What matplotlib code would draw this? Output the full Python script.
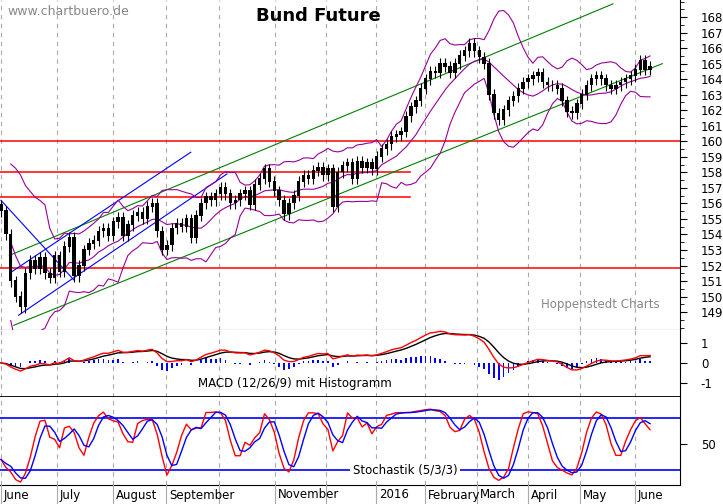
import numpy as np
import pandas as pd
import matplotlib
matplotlib.use("Agg")
import matplotlib.pyplot as plt

closes = [155.5,154.0,151.0,150.0,149.3,151.5,152.3,151.8,152.5,151.5,151.2,152.6,151.6,153.2,153.8,151.3,152.0,153.0,153.4,153.6,
154.2,154.4,153.9,154.8,155.1,153.9,154.6,155.2,155.4,155.0,155.8,156.0,154.2,153.0,153.3,154.4,154.7,154.5,155.0,153.8,
155.2,156.0,156.4,156.2,156.6,157.0,156.6,156.0,156.2,156.6,156.8,155.9,157.2,157.6,158.2,157.4,156.8,156.2,155.3,156.0,
156.5,157.4,157.8,157.6,158.1,158.3,157.8,158.2,155.8,158.0,158.4,158.6,157.6,158.7,158.3,158.6,158.2,159.0,159.5,159.8,
160.3,160.4,160.6,161.6,162.2,162.6,163.4,164.0,164.5,164.4,165.0,164.8,164.4,165.0,165.5,165.8,166.3,165.8,165.4,165.0,
163.0,161.8,161.4,162.0,162.6,162.9,163.4,163.8,164.0,164.2,164.4,163.8,163.6,163.6,163.4,162.6,161.9,161.8,162.4,163.0,
163.6,164.0,164.2,164.0,163.6,163.4,163.6,163.8,164.0,164.2,164.6,165.2,164.6,164.8]
opens = [155.9] + closes[:-1]
month_labels = ["June","July","August","September","","November","","2016","February","March","April","May","June"]
month_px = [1,57,113,166,219,275,326,376,425,477,528,580,635]
support_levels = [160.0, 158.0, 156.4, 151.85]
green_upper = ([1.7, 125.4], [152.65, 168.85])
green_lower = ([2.6, 135.5], [148.15, 165.0])
blue_upper = ([2.2, 38.9], [151.6, 159.3])
blue_lower = ([3.6, 46.3], [148.8, 157.9])
blue_down = ([0.0, 15.0], [156.2, 151.05])

c = pd.Series(closes); o = pd.Series(opens)
hi = np.maximum(c, o) + 0.35; lo = np.minimum(c, o) - 0.35
x = np.arange(len(c))
PX = 4.88
def px2i(p): return (p - 1) / PX
xl = (px2i(0), px2i(680))

fig = plt.figure(figsize=(7.23, 5.04), dpi=100)
W, H = 723, 504
def ax_at(top, bot):
    return fig.add_axes([0, 1 - bot / H, 680 / W, (bot - top) / H])
ax = ax_at(0, 330); am = ax_at(330, 397); ast = ax_at(397, 485)
for a in (ax, am, ast):
    a.set_xlim(*xl)
    for s in ("top", "left"):
        a.spines[s].set_visible(False)
    a.spines["bottom"].set_visible(False)
    a.yaxis.tick_right()
    a.tick_params(axis="y", labelsize=8.5, length=5, direction="out", pad=10)
    a.set_xticks([])
    for p in month_px:
        a.axvline(px2i(p), color="#aaaaaa", ls=(0, (4, 4)), lw=0.8, zorder=0)
ax.spines["bottom"].set_visible(True)
am.spines["bottom"].set_visible(True)
am.spines["bottom"].set_linewidth(1.3)
ast.spines["bottom"].set_visible(True)

# main
ax.set_ylim(147.85, 169.1)
ax.set_yticks(range(149, 169))
ax.set_yticks(np.arange(148, 169.1, 0.5), minor=True)
ax.tick_params(axis="y", which="minor", length=3)
for lv in support_levels:
    xr = px2i(680) if lv in (160.0, 151.85) else px2i(410)
    ax.plot([xl[0], xr], [lv, lv], color="red", lw=1.1, zorder=1)
for ln, col in ((green_upper, "green"), (green_lower, "green"), (blue_upper, "blue"), (blue_lower, "blue"), (blue_down, "blue")):
    ax.plot(ln[0], ln[1], color=col, lw=0.8, zorder=2)
mid = c.rolling(10, min_periods=3).mean(); sd = c.rolling(10, min_periods=3).std()
for band in (mid + 2.2 * sd, mid, mid - 2.2 * sd):
    ax.plot(x, band, color="#990099", lw=0.8, zorder=2)
ax.vlines(x, lo, hi, color="black", lw=0.8, zorder=3)
ax.bar(x, np.abs(c - o) + 0.05, bottom=np.minimum(c, o), width=0.7, color="black", zorder=3)
ax.text(px2i(7), 168.35, "www.chartbuero.de", color="#888888", fontsize=9, va="center")
ax.text(px2i(318), 168.1, "Bund Future", fontsize=13, ha="center", va="center", fontweight="bold")
ax.text(px2i(600), 149.5, "Hoppenstedt Charts", color="#888888", fontsize=8.5, ha="center", va="center")

# MACD
e1 = c.ewm(span=8).mean(); e2 = c.ewm(span=17).mean()
macd = e1 - e2; sig = macd.ewm(span=5).mean(); hist = macd - sig
am.set_ylim(-1.7, 1.65); am.set_yticks([-1, 0, 1]); am.set_yticklabels(["-1", "0", "1"])
am.bar(x, hist * 1.5, width=0.35, color="blue")
am.plot(x, sig, color="black", lw=1)
am.plot(x, macd, color="red", lw=1)
am.text(px2i(295), -1.05, "MACD (12/26/9) mit Histogramm", fontsize=8.5, ha="center", va="center")

# Stochastic
ll = lo.rolling(5, min_periods=1).min(); hh = hi.rolling(5, min_periods=1).max()
k = (100 * (c - ll) / (hh - ll)).rolling(3, min_periods=1).mean()
d = k.rolling(3, min_periods=1).mean()
ast.set_ylim(2, 105); ast.set_yticks([50])
ast.axhline(80, color="blue", lw=1.2); ast.axhline(20, color="blue", lw=1.2)
ast.plot(x, k, color="red", lw=1)
ast.plot(x, d, color="blue", lw=1)
ast.text(px2i(405), 20, "Stochastik (5/3/3)", fontsize=8.5, ha="center", va="center",
         bbox=dict(facecolor="white", edgecolor="none", pad=2))
for lab, p in zip(month_labels, month_px):
    if lab:
        fig.text((p + 3) / W, 1 - 495 / H, lab, fontsize=8.5, ha="left", va="center")
    fig.add_artist(plt.Line2D([p / W, p / W], [1 - 485 / H, 0], color="#aaaaaa", lw=0.8))
fig.savefig("out.png", dpi=100)
